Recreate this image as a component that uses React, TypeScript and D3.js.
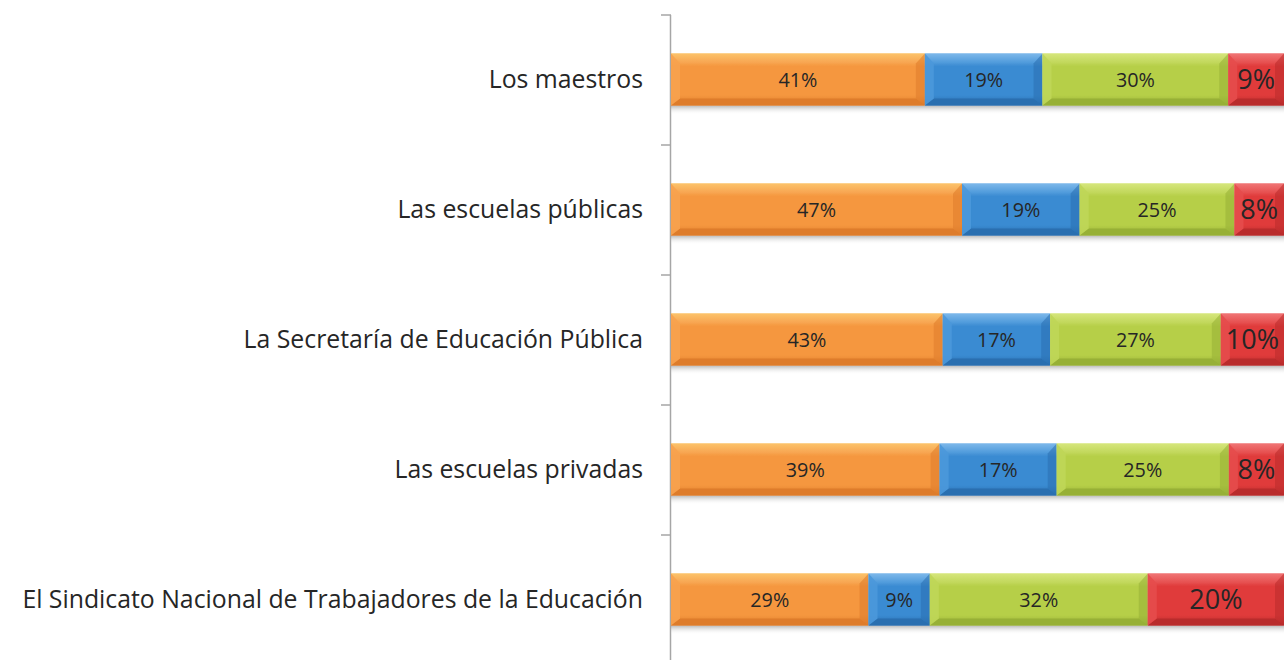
import React from "react";
import * as d3 from "d3";

const categories = [
  "Los maestros",
  "Las escuelas públicas",
  "La Secretaría de Educación Pública",
  "Las escuelas privadas",
  "El Sindicato Nacional de Trabajadores de la Educación",
];
const seriesA = [41, 47, 43, 39, 29];
const seriesB = [19, 19, 17, 17, 9];
const seriesC = [30, 25, 27, 25, 32];
const seriesD = [9, 8, 10, 8, 20];
const seriesList = [seriesA, seriesB, seriesC, seriesD];

const palette = [
  { base: "#F5973F", light: "#FCC36A", dark: "#DE7C2B", side: "#F7A24F" },
  { base: "#3A8BD2", light: "#7DB8EA", dark: "#2A6FB0", side: "#4B98DA" },
  { base: "#B6CF48", light: "#D6E67C", dark: "#97B036", side: "#BFD658" },
  { base: "#E03B3B", light: "#F07575", dark: "#B92C2C", side: "#E54C4C" },
];

const W = 1284;
const H = 660;
const FONT = "'Open Sans', sans-serif";

export default function App() {
  const x = d3.scaleLinear().domain([0, 1]).range([671, 1284]);
  const y = d3.scaleBand<string>().domain(categories).range([15, 665]).paddingInner(0).paddingOuter(0);
  const barH = 52;
  const bx = 9, bt = 10, bb = 7;

  const rows = categories.map((c, i) => {
    const vals = seriesList.map((s) => s[i]);
    const total = d3.sum(vals);
    let acc = 0;
    return vals.map((v, k) => {
      const x0 = x(acc / total);
      acc += v;
      const x1 = x(acc / total);
      return { c, v, k, x0, x1 };
    });
  });

  return (
    <svg width={W} height={H} style={{ position: "absolute", left: 0, top: 0, background: "#fff" }}>
      <defs>
        {palette.map((p, k) => (
          <linearGradient key={k} id={`face${k}`} x1="0" y1="0" x2="0" y2="1">
            <stop offset="0" stopColor={p.light} />
            <stop offset="0.25" stopColor={p.base} />
            <stop offset="0.8" stopColor={p.base} />
            <stop offset="1" stopColor={p.dark} />
          </linearGradient>
        ))}
        {palette.map((p, k) => (
          <linearGradient key={"t" + k} id={`top${k}`} x1="0" y1="0" x2="0" y2="1">
            <stop offset="0" stopColor={p.light} />
            <stop offset="1" stopColor={p.side} />
          </linearGradient>
        ))}
        <linearGradient id="shadow" x1="0" y1="0" x2="0" y2="1">
          <stop offset="0" stopColor="#9a9a9a" stopOpacity="0.7" />
          <stop offset="1" stopColor="#ffffff" stopOpacity="0" />
        </linearGradient>
      </defs>

      {/* axis */}
      <line x1={670.5} x2={670.5} y1={15} y2={665} stroke="#A6A6A6" strokeWidth={1.5} />
      {d3.range(categories.length + 1).map((i) => {
        const yy = 15 + i * y.step();
        return <line key={i} x1={661} x2={671} y1={yy} y2={yy} stroke="#A6A6A6" strokeWidth={1.5} />;
      })}

      {rows.map((segs, i) => {
        const cy = (y(categories[i]) as number) + y.bandwidth() / 2 - 0.5;
        const y0 = cy - barH / 2;
        const y1 = cy + barH / 2;
        return (
          <g key={i}>
            <rect x={671} y={y1} width={W - 671} height={9} fill="url(#shadow)" />
            {segs.map((s) => {
              const p = palette[s.k];
              const { x0, x1 } = s;
              return (
                <g key={s.k}>
                  <rect x={x0} y={y0} width={x1 - x0} height={barH} fill={`url(#face${s.k})`} />
                  <polygon
                    points={`${x0},${y0} ${x1},${y0} ${x1 - bx},${y0 + bt} ${x0 + bx},${y0 + bt}`}
                    fill={`url(#top${s.k})`}
                  />
                  <polygon
                    points={`${x0},${y1} ${x1},${y1} ${x1 - bx},${y1 - bb} ${x0 + bx},${y1 - bb}`}
                    fill={p.dark}
                  />
                  <polygon
                    points={`${x0},${y0} ${x0 + bx},${y0 + bt} ${x0 + bx},${y1 - bb} ${x0},${y1}`}
                    fill={p.side}
                    opacity={0.9}
                  />
                  <polygon
                    points={`${x1},${y0} ${x1 - bx},${y0 + bt} ${x1 - bx},${y1 - bb} ${x1},${y1}`}
                    fill={p.dark}
                    opacity={0.55}
                  />
                  <text
                    x={(x0 + x1) / 2}
                    y={cy}
                    dy="0.36em"
                    textAnchor="middle"
                    fontFamily={FONT}
                    fontSize={s.k === 3 ? 27 : 19.8}
                    fill="#262626"
                  >
                    {s.v}%
                  </text>
                </g>
              );
            })}
            <text
              x={643}
              y={cy}
              dy="0.36em"
              textAnchor="end"
              fontFamily={FONT}
              fontSize={24.8}
              fill="#262626"
            >
              {categories[i]}
            </text>
          </g>
        );
      })}
    </svg>
  );
}
